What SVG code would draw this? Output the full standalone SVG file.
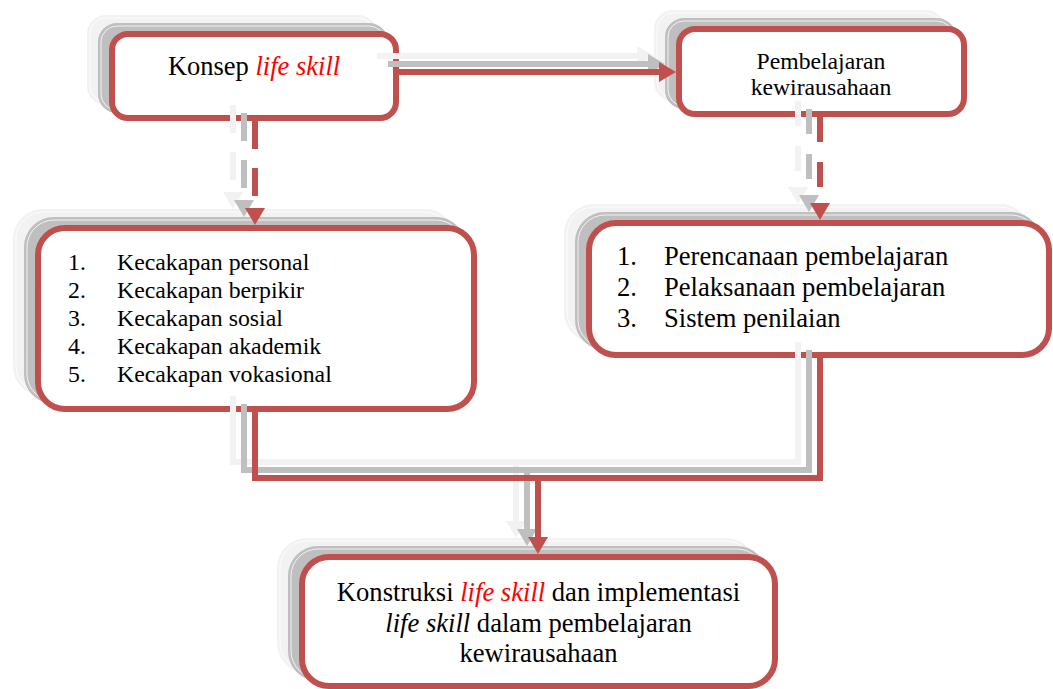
<svg xmlns="http://www.w3.org/2000/svg" xmlns:xlink="http://www.w3.org/1999/xlink" width="1053" height="689" viewBox="0 0 1053 689">
<style>
  .main{fill:#ffffff;stroke:#c0504d;stroke-width:6}
  .sg{fill:#bfbfbf;stroke:#bfbfbf;stroke-width:6}
  .sl{fill:#f2f2f2;stroke:#f2f2f2;stroke-width:6}
  .wl{fill:none;stroke:#ffffff;stroke-width:0.8}
  text{font-family:"Liberation Serif","Times New Roman",serif;fill:#000000}
  .it{font-style:italic}
  .rd{fill:#ff0000}
  .cr{fill:none;stroke:#c0504d;stroke-width:6;marker-end:url(#mr)}
  .cg{fill:none;stroke:#bfbfbf;stroke-width:6;marker-end:url(#mg)}
  .cl{fill:none;stroke:#f2f2f2;stroke-width:6;marker-end:url(#ml)}
</style>
<defs>
  <marker id="mr" markerUnits="userSpaceOnUse" markerWidth="18" markerHeight="20" refX="0" refY="10" orient="auto" overflow="visible"><path d="M0,0 L17,10 L0,20 z" fill="#c0504d"/></marker>
  <marker id="mg" markerUnits="userSpaceOnUse" markerWidth="18" markerHeight="20" refX="0" refY="10" orient="auto" overflow="visible"><path d="M0,0 L17,10 L0,20 z" fill="#bfbfbf"/></marker>
  <marker id="ml" markerUnits="userSpaceOnUse" markerWidth="18" markerHeight="20" refX="0" refY="10" orient="auto" overflow="visible"><path d="M0,0 L17,10 L0,20 z" fill="#f2f2f2"/></marker>
  <rect id="r1" x="112" y="34" width="284" height="84" rx="16"/>
  <rect id="r2" x="679" y="29" width="285" height="85" rx="16"/>
  <rect id="r3" x="38" y="228" width="436" height="181" rx="27"/>
  <rect id="r4" x="589" y="223" width="460" height="132" rx="27"/>
  <rect id="r5" x="302" y="557" width="473" height="129" rx="27"/>
  <path id="c1" d="M399,72 H659"/>
  <path id="c2" d="M255,121 V208" stroke-dasharray="28 19"/>
  <path id="c3" d="M820,117 V203" stroke-dasharray="25 20"/>
  <path id="c4" d="M255,412 V478 H820 V358" marker-end="none"/>
  <path id="c5" d="M538,478 V537"/>
</defs>

<g id="node-konsep">
  <use xlink:href="#r1" class="sl" transform="translate(-22,-16)"/>
  <use xlink:href="#r1" class="wl" transform="translate(-22,-16)"/>
  <use xlink:href="#r1" class="sg" transform="translate(-11,-8)"/>
  <use xlink:href="#r1" class="wl" transform="translate(-11,-8)"/>
  <use xlink:href="#r1" class="main"/>
  <text x="254" y="75" font-size="26.5" text-anchor="middle">Konsep <tspan class="it rd">life skill</tspan></text>
</g>

<g id="node-pembelajaran">
  <use xlink:href="#r2" class="sl" transform="translate(-22,-16)"/>
  <use xlink:href="#r2" class="wl" transform="translate(-22,-16)"/>
  <use xlink:href="#r2" class="sg" transform="translate(-11,-8)"/>
  <use xlink:href="#r2" class="wl" transform="translate(-11,-8)"/>
  <use xlink:href="#r2" class="main"/>
  <text x="821" y="69" font-size="23.7" text-anchor="middle">Pembelajaran</text>
  <text x="821" y="95" font-size="23.7" text-anchor="middle">kewirausahaan</text>
</g>

<g id="node-kecakapan">
  <use xlink:href="#r3" class="sl" transform="translate(-22,-16)"/>
  <use xlink:href="#r3" class="wl" transform="translate(-22,-16)"/>
  <use xlink:href="#r3" class="sg" transform="translate(-11,-8)"/>
  <use xlink:href="#r3" class="wl" transform="translate(-11,-8)"/>
  <use xlink:href="#r3" class="main"/>
  <g font-size="23.8">
    <text x="68" y="270">1.</text><text x="117" y="270">Kecakapan personal</text>
    <text x="68" y="298">2.</text><text x="117" y="298">Kecakapan berpikir</text>
    <text x="68" y="326">3.</text><text x="117" y="326">Kecakapan sosial</text>
    <text x="68" y="354">4.</text><text x="117" y="354">Kecakapan akademik</text>
    <text x="68" y="382">5.</text><text x="117" y="382">Kecakapan vokasional</text>
  </g>
</g>

<g id="node-perencanaan">
  <use xlink:href="#r4" class="sl" transform="translate(-22,-16)"/>
  <use xlink:href="#r4" class="wl" transform="translate(-22,-16)"/>
  <use xlink:href="#r4" class="sg" transform="translate(-11,-8)"/>
  <use xlink:href="#r4" class="wl" transform="translate(-11,-8)"/>
  <use xlink:href="#r4" class="main"/>
  <g font-size="26.6">
    <text x="617" y="265">1.</text><text x="664" y="265">Perencanaan pembelajaran</text>
    <text x="617" y="296">2.</text><text x="664" y="296">Pelaksanaan pembelajaran</text>
    <text x="617" y="327">3.</text><text x="664" y="327">Sistem penilaian</text>
  </g>
</g>

<g id="node-konstruksi">
  <use xlink:href="#r5" class="sl" transform="translate(-22,-16)"/>
  <use xlink:href="#r5" class="wl" transform="translate(-22,-16)"/>
  <use xlink:href="#r5" class="sg" transform="translate(-11,-8)"/>
  <use xlink:href="#r5" class="wl" transform="translate(-11,-8)"/>
  <use xlink:href="#r5" class="main"/>
  <g font-size="26.6" text-anchor="middle">
    <text x="538.5" y="601">Konstruksi <tspan class="it rd">life skill</tspan> dan implementasi</text>
    <text x="538.5" y="632"><tspan class="it">life skill</tspan> dalam pembelajaran</text>
    <text x="538.5" y="662">kewirausahaan</text>
  </g>
</g>

<g id="connectors">
  <g transform="translate(-22,-16)">
    <use xlink:href="#c1" class="cl"/>
    <use xlink:href="#c2" class="cl"/>
    <use xlink:href="#c3" class="cl"/>
    <use xlink:href="#c4" class="cl"/>
    <use xlink:href="#c5" class="cl"/>
  </g>
  <g transform="translate(-11,-8)">
    <use xlink:href="#c1" class="cg"/>
    <use xlink:href="#c2" class="cg"/>
    <use xlink:href="#c3" class="cg"/>
    <use xlink:href="#c4" class="cg"/>
    <use xlink:href="#c5" class="cg"/>
  </g>
  <use xlink:href="#c1" class="cr"/>
  <use xlink:href="#c2" class="cr"/>
  <use xlink:href="#c3" class="cr"/>
  <use xlink:href="#c4" class="cr"/>
  <use xlink:href="#c5" class="cr"/>
</g>
</svg>
